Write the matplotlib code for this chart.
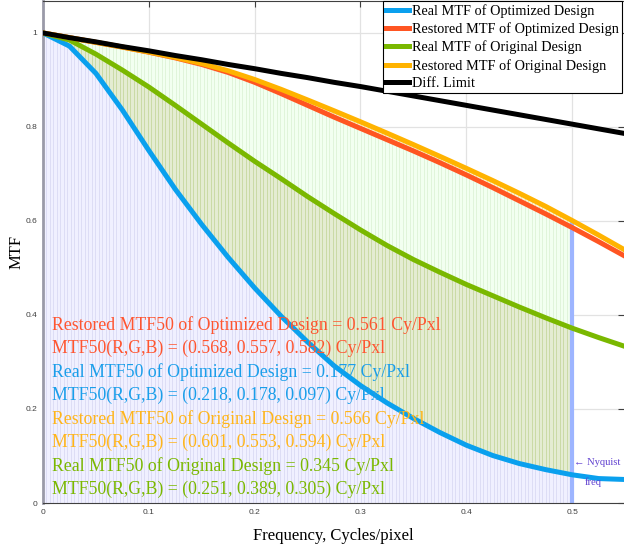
import matplotlib
matplotlib.use('Agg')
import matplotlib.pyplot as plt
import numpy as np

# frequency samples (cycles/pixel)
freq = np.array([0, .025, .05, .075, .1, .125, .15, .175, .2, .225, .25, .275,
                 .3, .325, .35, .375, .4, .425, .45, .475, .5, .525, .55])

real_opt = np.array([1.000, .972, .914, .836, .750, .6675, .5925, .5225, .4575, .3975, .3425, .292,
                     .250, .213, .180, .150, .123, .101, .084, .071, .060, .052, .050])
restored_opt = np.array([1.000, .990, .980, .970, .959, .947, .933, .916, .895, .871, .846, .821,
                         .797, .773, .749, .724, .698, .671, .643, .615, .586, .556, .525])
real_orig = np.array([1.000, .985, .955, .921, .885, .846, .806, .766, .727, .690, .652, .616,
                      .581, .548, .518, .491, .465, .441, .417, .394, .372, .352, .333])
restored_orig = np.array([1.000, .990, .980, .970, .9595, .948, .935, .9195, .901, .880, .8575, .8345,
                          .811, .787, .7625, .7375, .712, .686, .659, .631, .601, .570, .538])
diff_limit = np.array([1.000, .990, .981, .971, .962, .952, .943, .933, .924, .914, .905, .895,
                       .886, .876, .866, .856, .846, .836, .826, .816, .806, .796, .786])

labels = ['Real MTF of Optimized Design', 'Restored MTF of Optimized Design',
          'Real MTF of Original Design', 'Restored MTF of Original Design', 'Diff. Limit']
nyquist = 0.5

notes = [
    ('Restored MTF50 of Optimized Design = 0.561 Cy/Pxl', '#FF5530'),
    ('MTF50(R,G,B) = (0.568, 0.557, 0.582) Cy/Pxl', '#FF5530'),
    ('Real MTF50 of Optimized Design = 0.177 Cy/Pxl', '#1A9EEA'),
    ('MTF50(R,G,B) = (0.218, 0.178, 0.097) Cy/Pxl', '#1A9EEA'),
    ('Restored MTF50 of Original Design = 0.566 Cy/Pxl', '#FFB51A'),
    ('MTF50(R,G,B) = (0.601, 0.553, 0.594) Cy/Pxl', '#FFB51A'),
    ('Real MTF50 of Original Design = 0.345 Cy/Pxl', '#7AB800'),
    ('MTF50(R,G,B) = (0.251, 0.389, 0.305) Cy/Pxl', '#7AB800'),
]

serif = ['Liberation Serif', 'DejaVu Serif']

fig = plt.figure(figsize=(6.24, 5.5), dpi=100)
ax = fig.add_axes([43 / 624, 47 / 550, 581 / 624, 502 / 550])
ax.set_xlim(0, 0.549)
ax.set_ylim(0, 1.068)

# shaded, striped regions up to Nyquist
m = freq <= nyquist
fs = np.arange(0, nyquist + 1e-9, 0.0033)
b = np.interp(fs, freq, real_opt)
g = np.interp(fs, freq, real_orig)
r = np.interp(fs, freq, restored_opt)
o = np.interp(fs, freq, restored_orig)

ax.fill_between(freq[m], 0, real_opt[m], color='#F0F0FF', lw=0, zorder=1)
ax.fill_between(freq[m], real_opt[m], real_orig[m], color='#E4ECD2', lw=0, zorder=1)
ax.fill_between(freq[m], real_orig[m], restored_opt[m], color='#F2FFF0', lw=0, zorder=1)
ax.fill_between(freq[m], restored_opt[m], restored_orig[m], color='#FAF5D8', lw=0, zorder=1)
ax.vlines(fs, 0, b, color='#DADAF4', lw=0.6, zorder=1.2)
ax.vlines(fs, b, g, color='#C6D79E', lw=0.6, zorder=1.2)
ax.vlines(fs, g, r, color='#DDF3D6', lw=0.6, zorder=1.2)
ax.vlines(fs, r, o, color='#EDE2A0', lw=0.6, zorder=1.2)

ax.grid(True, color='#E2E2E2', lw=0.9, zorder=0)
ax.set_axisbelow(True)

# Nyquist marker
ax.vlines(nyquist, 0, np.interp(nyquist, freq, restored_orig), color='#9DB5FF', lw=3, zorder=2)

ax.plot(freq, real_opt, color='#0AA0EE', lw=3.6, label=labels[0], zorder=3)
ax.plot(freq, restored_opt, color='#FF5522', lw=3.6, label=labels[1], zorder=3)
ax.plot(freq, real_orig, color='#7AB800', lw=3.6, label=labels[2], zorder=3)
ax.plot(freq, restored_orig, color='#FFB300', lw=3.6, label=labels[3], zorder=3)
ax.plot(freq, diff_limit, color='black', lw=3.6, label=labels[4], zorder=3)

# MTF50 notes
for i, (txt, col) in enumerate(notes):
    ypx = 325 + i * 23.5
    ax.text(0.0085, (503 - ypx) / 470, txt, color=col, fontsize=12.8, family=serif,
            ha='left', va='center', zorder=4)

ax.text(0.5018, (503 - 463) / 470, '\u2190 Nyquist', color='#6040D0', fontsize=7.6,
        family=serif, ha='left', va='center', zorder=4)
ax.text(0.5115, (503 - 482) / 470, 'freq', color='#6040D0', fontsize=7.6,
        family=serif, ha='left', va='center', zorder=4)

# axes styling
ax.set_xticks([0, 0.1, 0.2, 0.3, 0.4, 0.5])
ax.set_xticklabels(['0', '0.1', '0.2', '0.3', '0.4', '0.5'])
ax.set_yticks([0, 0.2, 0.4, 0.6, 0.8, 1.0])
ax.set_yticklabels(['0', '0.2', '0.4', '0.6', '0.8', '1'])
ax.tick_params(direction='in', length=4, width=0.8, color='#404040', labelsize=6,
               labelcolor='#404040', top=True, right=True, pad=4)
for lab in ax.get_xticklabels() + ax.get_yticklabels():
    lab.set_family('Liberation Sans')
ax.spines['right'].set_visible(False)
ax.spines['left'].set_color('#9A9AA8')
ax.spines['left'].set_linewidth(2)
ax.spines['bottom'].set_color('#404040')
ax.spines['top'].set_color('#404040')

ax.set_xlabel('Frequency, Cycles/pixel', fontsize=12, family=serif, labelpad=9)
ax.set_ylabel('MTF', fontsize=12, family=serif, labelpad=1)

leg = ax.legend(loc='upper left', bbox_to_anchor=(0.585, 1.0), prop={'family': serif, 'size': 10.3},
                frameon=True, fancybox=False, framealpha=1, edgecolor='black',
                handlelength=1.6, handletextpad=0.25, borderpad=0.2, labelspacing=0.32,
                borderaxespad=0)
leg.get_frame().set_linewidth(0.8)
leg.set_zorder(5)

fig.savefig('out.png', dpi=100, facecolor='white')
